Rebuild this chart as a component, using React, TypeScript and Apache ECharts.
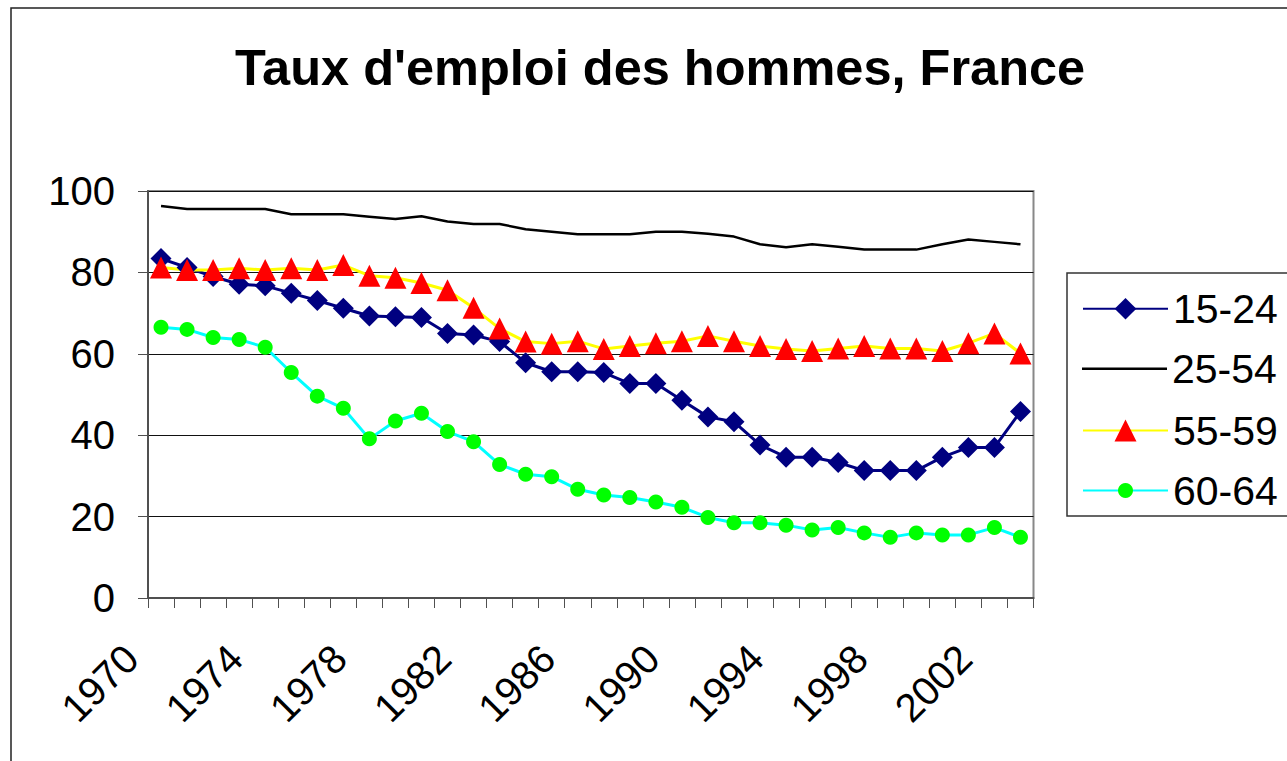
import React, { useEffect, useRef } from "react";
import * as echarts from "echarts";

const years = [
  "1970", "1971", "1972", "1973", "1974", "1975", "1976", "1977", "1978", "1979",
  "1980", "1981", "1982", "1983", "1984", "1985", "1986", "1987", "1988", "1989",
  "1990", "1991", "1992", "1993", "1994", "1995", "1996", "1997", "1998", "1999",
  "2000", "2001", "2002", "2003",
];

const youth1524 = [
  83.4, 81.2, 79.0, 77.1, 76.7, 74.9, 73.1, 71.2, 69.3, 69.1,
  68.9, 65.0, 64.6, 63.0, 57.8, 55.6, 55.6, 55.4, 52.7, 52.7,
  48.6, 44.5, 43.3, 37.6, 34.6, 34.6, 33.3, 31.3, 31.3, 31.3,
  34.6, 37.0, 37.0, 45.8,
];

const prime2554 = [
  96.3, 95.6, 95.6, 95.6, 95.6, 94.3, 94.3, 94.3, 93.7, 93.1,
  93.8, 92.5, 91.9, 91.9, 90.6, 90.0, 89.4, 89.4, 89.4, 90.0,
  90.0, 89.5, 88.8, 86.9, 86.2, 86.9, 86.3, 85.6, 85.6, 85.6,
  86.9, 88.1, 87.5, 86.9,
];

const older5559 = [
  81.2, 80.6, 80.6, 81.0, 80.6, 81.0, 80.6, 81.8, 79.2, 78.7,
  77.4, 75.6, 71.3, 66.2, 63.0, 62.5, 63.1, 61.2, 61.9, 62.6,
  63.1, 64.4, 63.1, 61.9, 61.2, 60.7, 61.3, 61.9, 61.3, 61.3,
  60.7, 62.6, 65.0, 60.1,
];

const senior6064 = [
  66.5, 66.0, 64.0, 63.5, 61.6, 55.4, 49.6, 46.6, 39.1, 43.5,
  45.4, 40.9, 38.4, 32.8, 30.4, 29.8, 26.7, 25.3, 24.7, 23.6,
  22.3, 19.8, 18.5, 18.5, 17.9, 16.7, 17.3, 16.0, 14.9, 16.0,
  15.5, 15.5, 17.3, 14.9,
];

const seriesNames = ["15-24", "25-54", "55-59", "60-64"];
const titleText = "Taux d'emploi des hommes, France";

export default function App() {
  const ref = useRef<HTMLDivElement>(null);

  useEffect(() => {
    document.body.style.margin = "0";
    const chart = echarts.init(ref.current!, null, { renderer: "svg" });
    const font = "'Liberation Sans', Arial, sans-serif";
    const legendText = { fontSize: 41, color: "#000", fontFamily: font, lineHeight: 40 };
    const legendBase = {
      left: 1082,
      padding: 0,
      orient: "vertical",
      itemWidth: 85,
      itemGap: 0,
      selectedMode: false,
      textStyle: legendText,
    };

    chart.setOption({
      animation: false,
      backgroundColor: "#fff",
      title: {
        text: titleText,
        left: 235,
        top: 42,
        padding: 0,
        textStyle: { fontSize: 50.5, fontWeight: "bold", color: "#000", fontFamily: font },
      },
      graphic: [
        {
          type: "rect",
          shape: { x: 11, y: 8, width: 1400, height: 900 },
          style: { fill: "none", stroke: "#222", lineWidth: 1.5 },
          silent: true,
        },
        {
          type: "rect",
          shape: { x: 1067, y: 273, width: 300, height: 243 },
          style: { fill: "none", stroke: "#333", lineWidth: 1.5 },
          silent: true,
        },
      ],
      legend: [
        { ...legendBase, data: [seriesNames[0]], top: 308.3 - 20, itemHeight: 27 },
        { ...legendBase, data: [{ name: seriesNames[1], icon: "rect" }], top: 368.3 - 20, itemHeight: 2.5 },
        { ...legendBase, data: [seriesNames[2]], top: 430 - 20, itemHeight: 27.5 },
        { ...legendBase, data: [seriesNames[3]], top: 490 - 20, itemHeight: 18.75 },
      ],
      grid: {
        left: 148,
        top: 191,
        right: 253.5,
        bottom: 163,
        show: true,
        borderColor: "#888",
        borderWidth: 2,
        backgroundColor: "transparent",
        containLabel: false,
        outerBoundsMode: "none",
      },
      xAxis: {
        type: "category",
        data: years,
        boundaryGap: true,
        axisLine: { show: true, lineStyle: { color: "#505050", width: 2 } },
        axisTick: { show: true, interval: 0, length: 10, lineStyle: { color: "#505050", width: 1 } },
        axisLabel: {
          interval: 3,
          rotate: 45,
          fontSize: 40,
          color: "#000",
          fontFamily: font,
          margin: 24,
          padding: [0, 42, 0, 0],
        },
        splitLine: { show: false },
      },
      yAxis: {
        type: "value",
        min: 0,
        max: 100,
        interval: 20,
        axisLine: { show: true, lineStyle: { color: "#505050", width: 2 } },
        axisTick: { show: true, length: 10, lineStyle: { color: "#505050", width: 1 } },
        axisLabel: { fontSize: 40, color: "#000", fontFamily: font, margin: 33 },
        splitLine: { show: true, lineStyle: { color: "#111", width: 1 } },
      },
      series: [
        {
          name: seriesNames[0],
          type: "line",
          data: youth1524,
          symbol: "diamond",
          symbolSize: 21,
          showAllSymbol: true,
          itemStyle: { color: "#000080" },
          lineStyle: { color: "#000080", width: 3 },
        },
        {
          name: seriesNames[1],
          type: "line",
          data: prime2554,
          symbol: "none",
          itemStyle: { color: "#000" },
          lineStyle: { color: "#000", width: 2.5 },
        },
        {
          name: seriesNames[2],
          type: "line",
          data: older5559,
          symbol: "triangle",
          symbolSize: 22,
          showAllSymbol: true,
          itemStyle: { color: "#FF0000" },
          lineStyle: { color: "#FFFF00", width: 3 },
        },
        {
          name: seriesNames[3],
          type: "line",
          data: senior6064,
          symbol: "circle",
          symbolSize: 15,
          showAllSymbol: true,
          itemStyle: { color: "#00FF00" },
          lineStyle: { color: "#00FFFF", width: 3 },
        },
      ],
    });

    return () => chart.dispose();
  }, []);

  return <div ref={ref} style={{ width: 1287, height: 761 }} />;
}
